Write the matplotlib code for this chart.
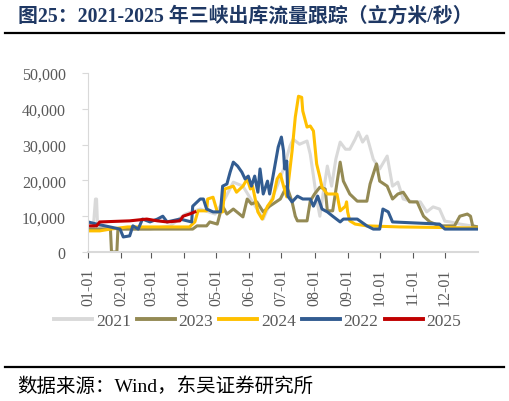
import matplotlib
matplotlib.use('Agg')
import matplotlib.pyplot as plt
from matplotlib.lines import Line2D
from matplotlib.ticker import FuncFormatter

# day-of-year / outflow (m3/s) control points
days_2021 = [0, 5, 7, 8, 9, 30, 58, 77, 91, 105, 119, 128, 136, 145, 154, 164, 170, 177,
             183, 189, 192, 198, 205, 208, 211, 214, 217, 220, 224, 228, 232, 236, 241,
             245, 250, 253, 257, 261, 267, 273, 280, 285, 290, 295, 304, 311, 317, 323,
             329, 334, 339, 348, 365]
flow_2021 = [7000, 7000, 14800, 14800, 7000, 6400, 6400, 7300, 10600, 12000, 10600, 14800,
             19500, 18400, 14000, 9200, 13400, 18400, 23200, 29600, 31500, 30100, 31000,
             27300, 21200, 14800, 10000, 16200, 24000, 18400, 26000, 30700, 28700, 28700,
             31500, 33500, 30700, 32400, 25900, 23200, 26800, 18400, 19500, 14800, 14000,
             14000, 11200, 12600, 12000, 8600, 8400, 7800, 7000]

days_2023 = [0, 21, 22, 27, 28, 58, 98, 102, 111, 114, 121, 124, 126, 130, 136, 145, 149,
             153, 158, 164, 170, 180, 186, 191, 194, 196, 205, 208, 212, 217, 222, 224,
             229, 236, 239, 245, 252, 261, 264, 270, 273, 280, 285, 290, 295, 301, 308,
             314, 320, 329, 343, 348, 355, 358, 360, 365]
flow_2023 = [6400, 6400, 0, 0, 6400, 6400, 6400, 7300, 7300, 8400, 7800, 11200, 12800,
             10600, 12000, 9800, 14800, 13400, 14000, 11200, 12800, 14800, 18400, 14000,
             10000, 8700, 8700, 14200, 16200, 18100, 17600, 11500, 11500, 25100, 19800,
             16200, 14200, 14200, 19000, 24600, 19800, 18400, 14800, 16200, 16700, 14000,
             14000, 10000, 8400, 7300, 7300, 10000, 10600, 10000, 7300, 7000]

days_2024 = [0, 11, 21, 37, 95, 100, 103, 111, 112, 117, 121, 126, 128, 136, 139, 145, 149,
             152, 154, 159, 163, 168, 173, 177, 180, 183, 186, 191, 194, 197, 200, 201,
             205, 208, 211, 214, 217, 219, 224, 233, 236, 241, 242, 243, 245, 250, 261,
             292, 365]
flow_2024 = [5900, 5900, 6400, 7000, 7000, 8400, 11500, 11500, 14800, 15300, 11200, 11200,
             17600, 18400, 16700, 18400, 20400, 17600, 18400, 11200, 9200, 12800, 14800,
             20400, 21800, 18400, 15400, 28200, 37700, 43500, 43200, 39400, 34900, 35200,
             33800, 24600, 20900, 18100, 16200, 16200, 11500, 12800, 14000, 11200, 8700,
             7800, 7300, 7000, 6700]

days_2022 = [0, 8, 30, 33, 39, 42, 47, 51, 58, 65, 70, 74, 86, 97, 98, 105, 108, 111, 117,
             124, 126, 130, 133, 136, 140, 144, 147, 150, 153, 156, 159, 161, 164, 168,
             170, 173, 178, 181, 183, 184, 186, 187, 191, 196, 201, 208, 211, 215, 219,
             224, 229, 236, 239, 252, 261, 267, 273, 276, 281, 285, 329, 334, 365]
flow_2022 = [8400, 7800, 6400, 4200, 4500, 7300, 6400, 9200, 8400, 9200, 10000, 8400, 9200,
             8400, 12800, 14800, 14800, 12000, 11200, 11200, 18400, 19000, 22300, 25100,
             24000, 22300, 20400, 21200, 18400, 21200, 16700, 23200, 16200, 19800, 16200,
             20900, 29300, 32100, 28200, 23200, 25400, 15600, 14000, 15600, 14800, 14800,
             12800, 15600, 12000, 11200, 10000, 8400, 9200, 9200, 7300, 6400, 6400, 12000,
             11200, 8400, 7800, 6400, 6400]

days_2025 = [0, 8, 11, 39, 55, 65, 74, 86, 89, 95, 100]
flow_2025 = [7300, 7300, 8400, 8700, 9200, 8700, 8400, 8700, 10000, 10600, 11200]

series = [('2021', days_2021, flow_2021, '#D9D9D9'),
          ('2023', days_2023, flow_2023, '#948A54'),
          ('2024', days_2024, flow_2024, '#FFC000'),
          ('2022', days_2022, flow_2022, '#325C91'),
          ('2025', days_2025, flow_2025, '#C00000')]

month_starts = [0, 31, 59, 90, 120, 151, 181, 212, 243, 273, 304, 334]
month_labels = ['01-01', '02-01', '03-01', '04-01', '05-01', '06-01',
                '07-01', '08-01', '09-01', '10-01', '11-01', '12-01']

serif = ['Liberation Serif', 'Noto Sans CJK SC']
tick_grey = '#595959'
axis_grey = '#D9D9D9'

fig = plt.figure(figsize=(5.1, 4.02), dpi=100)
ax = fig.add_axes([88 / 510, 1 - 253 / 402, 390 / 510, 179 / 402])

for name, d, v, c in series:
    ax.plot(d, v, color=c, lw=2.2, label=name, solid_joinstyle='round')

ax.set_xlim(0, 365)
ax.set_ylim(0, 50000)
ax.set_yticks(range(0, 50001, 10000))
ax.yaxis.set_major_formatter(FuncFormatter(lambda v, _: f'{int(v):,}'))
ax.set_xticks(month_starts)
ax.set_xticklabels(month_labels, rotation=90)

for s in ['top', 'right']:
    ax.spines[s].set_visible(False)
ax.spines['left'].set_color(axis_grey)
ax.spines['bottom'].set_color(axis_grey)
ax.spines['bottom'].set_linewidth(1.5)
ax.tick_params(axis='y', colors=axis_grey, length=4, pad=12, labelcolor=tick_grey)
ax.tick_params(axis='x', colors=tick_grey, length=4, pad=7, labelcolor=tick_grey)
for lbl in ax.get_xticklabels() + ax.get_yticklabels():
    lbl.set_fontfamily(serif)
    lbl.set_fontsize(11.5)

leg = fig.legend(loc='center', bbox_to_anchor=(0.505, 1 - 322 / 402), ncol=5,
                 frameon=False, handlelength=2.2, handletextpad=0.2, columnspacing=0.35,
                 prop={'family': serif, 'size': 12.5})
for t in leg.get_texts():
    t.set_color(tick_grey)
for h in leg.get_lines():
    h.set_linewidth(2.8)

fig.text(18 / 510, 1 - 17 / 402, '图25：2021-2025 年三峡出库流量跟踪（立方米/秒）',
         ha='left', va='center', fontsize=14.3, fontweight='bold', color='#1F3864',
         family=serif)
fig.add_artist(Line2D([5 / 510, 504 / 510], [1 - 34 / 402] * 2, color='black', lw=1.6))
fig.add_artist(Line2D([5 / 510, 504 / 510], [1 - 368 / 402] * 2, color='black', lw=1.6))
fig.text(17 / 510, 1 - 387 / 402, '数据来源：Wind，东吴证券研究所', ha='left', va='center',
         fontsize=14, color='black', family=serif)

fig.savefig('out.png', dpi=100)
